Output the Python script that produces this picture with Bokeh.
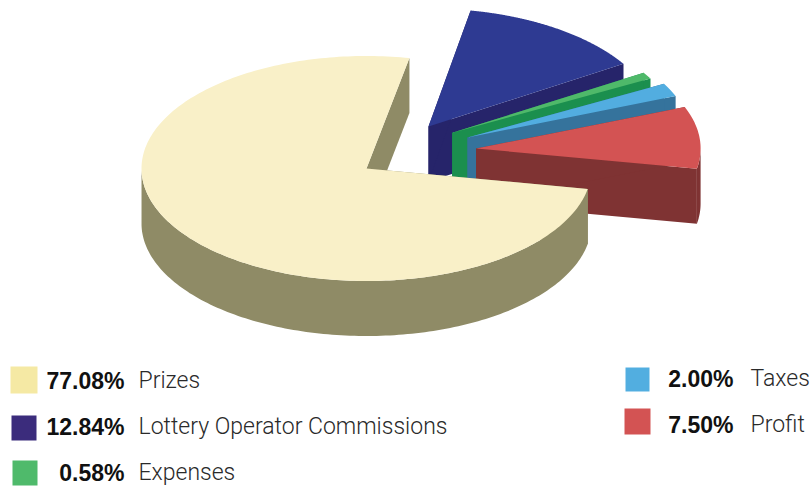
import numpy as np
from bokeh.core.properties import value
from bokeh.embed import file_html
from bokeh.models import ColumnDataSource, Range1d
from bokeh.plotting import figure
from bokeh.resources import INLINE

# ---- data (counter-clockwise order round the pie, starting with Prizes)
names = ["Prizes", "Profit", "Taxes", "Expenses", "Lottery Operator Commissions"]
shares = [77.08, 7.50, 2.00, 0.58, 12.84]
labels = ["77.08%", "7.50%", "2.00%", "0.58%", "12.84%"]

# ---- styling of the pie, in page pixels
BOLD_FONT = "Liberation Sans"
NAME_FONT = "Roboto Light"
top_colors = ["#f9f0c8", "#d35353", "#52ade0", "#4fb96a", "#2e3a92"]
wall_colors = ["#8f8b66", "#7f3333", "#35739c", "#1b8f4e", "#26246a"]
swatch_colors = ["#f5e9a4", "#d35353", "#52aee0", "#4fba6b", "#3b2c7c"]
apex_x = [366.0, 475.7, 467.0, 451.7, 428.0]
apex_y = [168.0, 148.0, 137.0, 132.3, 126.0]
radius_y = [112.5, 112.2, 112.0, 113.0, 118.0]
aspect = [2.0, 2.0, 2.0, 2.0, 1.95]
sweep_scale = [0.975, 1.19, 0.97, 1.63, 1.025]  # the artwork's own angular distortion
paint_order = [4, 3, 2, 1, 0]
THICKNESS = 55.0
START_DEG = 79.0

# ---- legend layout
swatch_left = [10, 624, 625, 12, 11]
swatch_top = [366, 408, 367, 460, 415]
swatch_size = [27, 26, 24, 25, 25]
pct_right = [124, 733, 733, 124, 124]
name_left = [138, 750, 750, 138, 138]
text_y = [380, 424, 378, 472, 426]

W, H = 810, 487
p = figure(width=W, height=H, x_range=Range1d(0, W), y_range=Range1d(H, 0),
           output_backend="svg", toolbar_location=None, min_border=0,
           outline_line_color=None, background_fill_color="white")
p.axis.visible = False
p.grid.visible = False

sweeps = np.array(shares) * 3.6 * np.array(sweep_scale)
starts = START_DEG + np.concatenate([[0], np.cumsum(sweeps)[:-1]])

xs, ys, colors = [], [], []


def face(x, y, color):
    xs.append(list(x))
    ys.append(list(y))
    colors.append(color)


for i in paint_order:
    cx, cy, ry = apex_x[i], apex_y[i], radius_y[i]
    rx = ry * aspect[i]
    th = np.radians(np.linspace(starts[i], starts[i] + sweeps[i], 240))
    ax = cx + rx * np.cos(th)
    ay = cy - ry * np.sin(th)
    # the two cut faces
    for k in (0, -1):
        face([cx, ax[k], ax[k], cx], [cy, ay[k], ay[k] + THICKNESS, cy + THICKNESS], wall_colors[i])
    # the rim, only where it faces the viewer
    front = np.sin(th) <= 0
    if front.sum() > 1:
        fx, fy = ax[front], ay[front]
        face(np.r_[fx, fx[::-1]], np.r_[fy, fy[::-1] + THICKNESS], wall_colors[i])
    # the top
    face(np.r_[cx, ax], np.r_[cy, ay], top_colors[i])

p.patches("x", "y", fill_color="c", line_color=None,
          source=ColumnDataSource(dict(x=xs, y=ys, c=colors)))

# ---- legend
p.quad(left=swatch_left,
       right=[l + s for l, s in zip(swatch_left, swatch_size)],
       top=swatch_top,
       bottom=[t + s for t, s in zip(swatch_top, swatch_size)],
       fill_color=swatch_colors, line_color=None)
p.text(x=pct_right, y=text_y, text=labels, text_align="right", text_baseline="alphabetic",
       text_font=value(BOLD_FONT), text_font_style="bold", text_font_size="23px", text_color="#111111")
p.text(x=name_left, y=text_y, text=names, text_align="left", text_baseline="alphabetic",
       text_font=value(NAME_FONT), text_font_size="23px", text_color="#2a2a2a")

open("out.html", "w").write(file_html(p, INLINE))
